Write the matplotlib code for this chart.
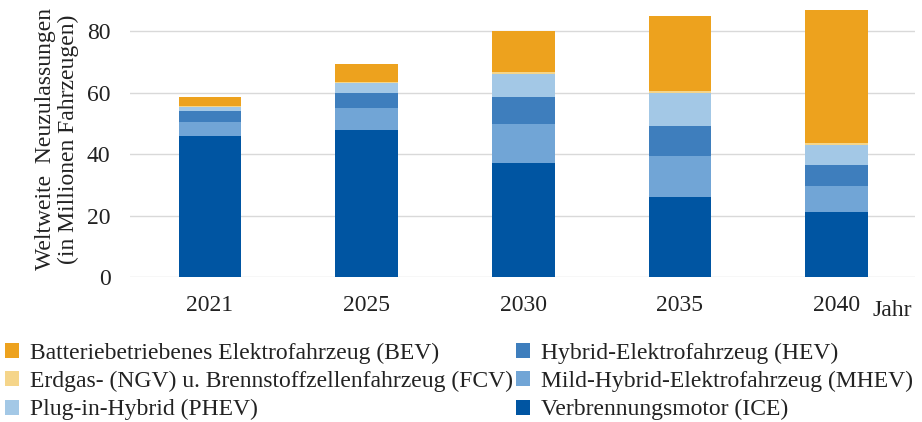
import matplotlib
matplotlib.use("Agg")
import matplotlib.pyplot as plt
import numpy as np
from matplotlib.patches import Patch

years = ["2021", "2025", "2030", "2035", "2040"]
ice = [46.0, 47.8, 37.0, 26.0, 21.3]
mhev = [4.5, 7.3, 12.8, 13.5, 8.4]
hev = [3.4, 4.6, 8.8, 9.6, 6.9]
phev = [1.4, 3.3, 7.4, 10.6, 6.2]
fcv = [0.3, 0.5, 0.8, 0.9, 0.8]
bev = [2.8, 5.7, 13.2, 24.3, 43.1]

labels = {
    "bev": "Batteriebetriebenes Elektrofahrzeug (BEV)",
    "fcv": "Erdgas- (NGV) u. Brennstoffzellenfahrzeug (FCV)",
    "phev": "Plug-in-Hybrid (PHEV)",
    "hev": "Hybrid-Elektrofahrzeug (HEV)",
    "mhev": "Mild-Hybrid-Elektrofahrzeug (MHEV)",
    "ice": "Verbrennungsmotor (ICE)",
}
colors = {
    "ice": "#0055A2",
    "mhev": "#71A5D6",
    "hev": "#3E7EBD",
    "phev": "#A3C8E6",
    "fcv": "#F5D58A",
    "bev": "#EDA21E",
}

plt.rcParams["font.family"] = ["Liberation Serif", "DejaVu Serif"]

fig = plt.figure(figsize=(9.22, 4.22), dpi=100)
ax = fig.add_axes([130 / 922, 1 - 277.3 / 422, 785 / 922, 271 / 422])

x = np.arange(len(years))
series = [("ice", ice), ("mhev", mhev), ("hev", hev), ("phev", phev), ("fcv", fcv), ("bev", bev)]
bottom = np.zeros(len(years))
for key, vals in series:
    v = np.array(vals)
    ax.bar(x, v, width=0.4, bottom=bottom, color=colors[key], zorder=3, linewidth=0)
    bottom += v

ax.set_xlim(-0.51, 4.5)
ax.set_ylim(0, 88)
ax.set_yticks([0, 20, 40, 60, 80])
ax.set_xticks(x)
ax.set_xticklabels(years)
ax.tick_params(axis="both", length=0, labelsize=17, colors="#222222")
ax.tick_params(axis="x", pad=13)
ax.tick_params(axis="y", pad=14)
ax.grid(axis="y", color="#d9d9d9", linewidth=1, zorder=0)
for s in ax.spines.values():
    s.set_visible(False)

ax.set_ylabel("Weltweite  Neuzulassungen\n(in Millionen Fahrzeugen)", fontsize=17,
              linespacing=1.12, color="#222222")
ax.yaxis.set_label_coords(-0.065, 0.51)

fig.text(892 / 922, 1 - 310 / 422, "Jahr", fontsize=17, ha="center", va="center", color="#222222")

order = ["bev", "fcv", "phev", "hev", "mhev", "ice"]
handles = [Patch(facecolor=colors[k], edgecolor="none", label=labels[k]) for k in order]
fig.legend(handles=handles, ncol=2, loc="upper left", bbox_to_anchor=(0.0, 1 - 338 / 422),
           frameon=False, fontsize=17, handlelength=0.6, handleheight=0.6,
           handletextpad=0.45, columnspacing=0.15, labelspacing=0.3, borderaxespad=0,
           borderpad=0.2, labelcolor="#222222")

fig.savefig("out.png", dpi=100)
